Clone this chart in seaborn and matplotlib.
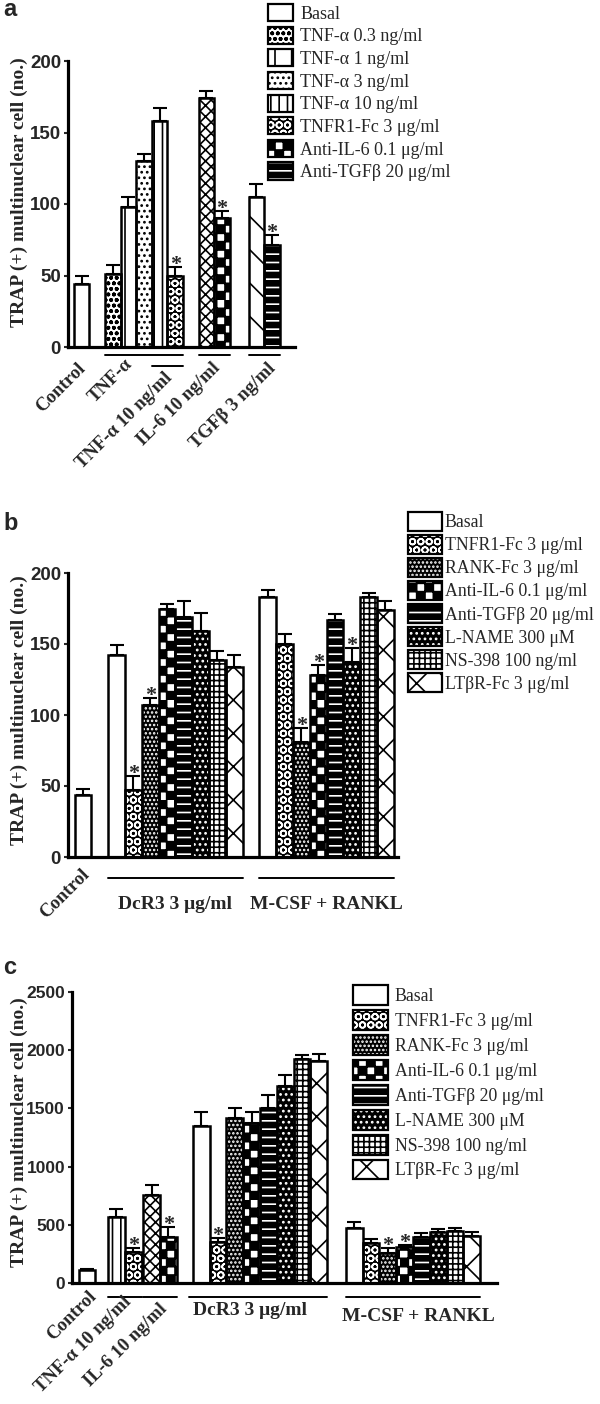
import numpy as np
import pandas as pd
import matplotlib
matplotlib.use("Agg")
import matplotlib.pyplot as plt
import matplotlib.hatch as mhatch
from matplotlib.path import Path
from matplotlib.patches import Patch, Rectangle
from matplotlib.font_manager import FontProperties
import seaborn as sns

# ---------------- data ----------------
# panel a
a_kinds = ["basal", "tnf03", "tnf1", "tnf3", "tnf10", "tnfr1", "il6", "ail6", "tgfb", "atgfb"]
a_values = [44, 51, 98, 130, 158, 50, 174, 90, 105, 71]
a_errors = [6, 6, 7, 5, 9, 6, 5, 5, 9, 7]
a_sig = [0, 0, 0, 0, 0, 1, 0, 1, 0, 1]
a_groups = ["Control", "TNF-α", "TNF-α 10 ng/ml", "IL-6 10 ng/ml", "TGFβ 3 ng/ml"]
a_yticks = [0, 50, 100, 150, 200]
a_legend_kinds = ["basal", "tnf03", "tnf1", "tnf3", "tnf10", "tnfr1", "ail6", "atgfb"]
a_legend_labels = ["Basal", "TNF-α 0.3 ng/ml", "TNF-α 1 ng/ml", "TNF-α 3 ng/ml",
                   "TNF-α 10 ng/ml", "TNFR1-Fc 3 μg/ml", "Anti-IL-6 0.1 μg/ml",
                   "Anti-TGFβ 20 μg/ml"]

# panel b
b_kinds = ["basal",
           "basal", "tnfr1", "rank", "ail6", "atgfb", "lname", "ns398", "ltbr",
           "basal", "tnfr1", "rank", "ail6", "atgfb", "lname", "ns398", "ltbr"]
b_values = [44, 142, 47, 107, 175, 169, 159, 139, 134,
            183, 150, 81, 128, 167, 137, 183, 174]
b_errors = [4, 7, 10, 5, 3, 11, 13, 6, 8,
            5, 7, 10, 7, 4, 10, 3, 6]
b_sig = [0, 0, 1, 1, 0, 0, 0, 0, 0,
         0, 0, 1, 1, 0, 1, 0, 0]
b_groups = ["Control", "DcR3 3 μg/ml", "M-CSF + RANKL"]
b_yticks = [0, 50, 100, 150, 200]

# panel c
c_kinds = ["basal", "tnf10", "tnfr1", "il6", "ail6",
           "basal", "tnfr1", "rank", "ail6", "atgfb", "lname", "ns398", "ltbr",
           "basal", "tnfr1", "rank", "ail6", "atgfb", "lname", "ns398", "ltbr"]
c_values = [110, 570, 270, 757, 400,
            1350, 350, 1414, 1371, 1500, 1690, 1920, 1910,
            471, 343, 262, 314, 400, 442, 451, 408]
c_errors = [10, 70, 30, 85, 85,
            115, 40, 85, 100, 115, 95, 40, 60,
            52, 37, 43, 14, 34, 23, 26, 29]
c_sig = [0, 0, 1, 0, 1,
         0, 1, 0, 0, 0, 0, 0, 0,
         0, 0, 1, 1, 0, 0, 0, 0]
c_groups = ["Control", "TNF-α 10 ng/ml", "IL-6 10 ng/ml", "DcR3 3 μg/ml", "M-CSF + RANKL"]
c_yticks = [0, 500, 1000, 1500, 2000, 2500]

bc_legend_kinds = ["basal", "tnfr1", "rank", "ail6", "atgfb", "lname", "ns398", "ltbr"]
bc_legend_labels = ["Basal", "TNFR1-Fc 3 μg/ml", "RANK-Fc 3 μg/ml", "Anti-IL-6 0.1 μg/ml",
                    "Anti-TGFβ 20 μg/ml", "L-NAME 300 μM", "NS-398 100 ng/ml",
                    "LTβR-Fc 3 μg/ml"]

# ---------------- layout (bar slots) ----------------
a_pos = [0, 2, 3, 4, 5, 6, 8, 9, 11.2, 12.2]
b_pos = [0] + [2 + i for i in range(8)] + [11 + i for i in range(8)]
c_pos = [0, 1.75, 2.75, 3.85, 4.85] + [6.8 + i for i in range(8)] + [15.9 + i for i in range(8)]

# ---------------- custom checker hatch ('*') ----------------
class Checker(mhatch.HatchPatternBase):
    def __init__(self, hatch, density):
        n = hatch.count("*") * density
        if n % 2:
            n += 1
        self.n = n
        self.num_vertices = (n * n // 2) * 5 if n else 0

    def set_vertices_and_codes(self, vertices, codes):
        s = 1.0 / self.n
        verts = []
        for i in range(self.n):
            for j in range(self.n):
                if (i + j) % 2 == 0:
                    x0, y0 = i * s, j * s
                    verts.append([[x0, y0], [x0 + s, y0], [x0 + s, y0 + s],
                                  [x0, y0 + s], [x0, y0]])
        vertices[:] = np.array(verts, float).reshape(-1, 2)
        codes[:] = np.tile([Path.MOVETO, Path.LINETO, Path.LINETO,
                            Path.LINETO, Path.CLOSEPOLY], len(verts))

mhatch._hatch_types = [t for t in mhatch._hatch_types if t is not mhatch.Stars] + [Checker]

# style: kind -> (face, hatch, hatch colour)
STYLE = {
    "basal": ("white", "", "black"),
    "tnf03": ("white", "ooo", "black"),
    "tnf1": ("white", "|", "black"),
    "tnf3": ("white", "...", "black"),
    "tnf10": ("white", "||", "black"),
    "tnfr1": ("black", "OO", "white"),
    "il6": ("white", "xxx", "black"),
    "ail6": ("white", "**", "black"),
    "tgfb": ("white", "\\", "black"),
    "atgfb": ("black", "--", "white"),
    "rank": ("black", "....", "white"),
    "lname": ("black", "...", "white"),
    "ns398": ("white", "+++", "black"),
    "ltbr": ("white", "x", "black"),
}

sns.set_style("white")
plt.rcParams["hatch.linewidth"] = 1.2
plt.rcParams["font.family"] = ["Liberation Serif", "DejaVu Serif"]

W, H = 600, 1404
fig = plt.figure(figsize=(6, 14.04), dpi=100)

SANS_B = dict(family="Liberation Sans", weight="bold")
SERIF_B = dict(family="Liberation Serif", weight="bold")


def ax_rect(x0, x1, ytop, ybot):
    return [x0 / W, 1 - ybot / H, (x1 - x0) / W, (ybot - ytop) / H]


def draw_panel(ax, pos, vals, errs, kinds, sig, xlim, ymax, yticks, tsize):
    df = pd.DataFrame({"pos": pos, "val": vals})
    sns.barplot(data=df, x="pos", y="val", native_scale=True, width=1.0,
                errorbar=None, color="white", edgecolor="black", linewidth=0, ax=ax)
    parr = np.array(pos, float)
    for p in list(ax.patches):
        cx = p.get_x() + p.get_width() / 2
        i = int(np.argmin(np.abs(parr - cx)))
        face, hatch, hc = STYLE[kinds[i]]
        p.set_facecolor(face)
        p.set_edgecolor(hc)
        p.set_hatch(hatch)
        p.set_linewidth(0)
        ax.add_patch(Rectangle(p.get_xy(), p.get_width(), p.get_height(), fill=False,
                               ec="black", lw=1.8, zorder=p.get_zorder() + 0.1))
    ax.errorbar(pos, vals, yerr=[np.zeros(len(vals)), errs], fmt="none", ecolor="black",
                elinewidth=1.5, capsize=5, capthick=1.5, zorder=4)
    for x, v, e, s in zip(pos, vals, errs, sig):
        if s:
            ax.annotate("*", xy=(x, v + e), xytext=(0, -2), textcoords="offset points",
                        ha="center", va="baseline", fontsize=16, **SERIF_B)
    ax.set_xlim(*xlim)
    ax.set_ylim(0, ymax)
    ax.set_xticks([])
    ax.set_xlabel("")
    ax.set_ylabel("")
    ax.set_yticks(yticks)
    ax.set_yticklabels([str(t) for t in yticks], fontsize=tsize, **SANS_B)
    ax.tick_params(axis="y", direction="out", length=3, width=1.5, pad=2, left=True)
    sns.despine(ax=ax)
    for s in ("left", "bottom"):
        ax.spines[s].set_linewidth(2.3)
        ax.spines[s].set_color("black")
    ax.patch.set_alpha(0)


def underline(ax, x0, x1, y):
    ax.plot([x0, x1], [y, y], color="black", lw=1.4, transform=ax.get_xaxis_transform(),
            clip_on=False)


def rot_label(ax, text, x, y, size=13.5):
    ax.text(x, y, text, rotation=45, rotation_mode="anchor", ha="right", va="center",
            transform=ax.get_xaxis_transform(), fontsize=size, **SERIF_B)


def flat_label(ax, text, x, y, size=14):
    ax.text(x, y, text, ha="center", va="center", transform=ax.get_xaxis_transform(),
            fontsize=size, **SERIF_B)


def make_legend(kinds, labels, x, y, hl, hh, ls, htp, size):
    handles = []
    for k in kinds:
        face, hatch, hc = STYLE[k]
        handles.append((Patch(facecolor=face, edgecolor=hc, hatch=hatch, linewidth=0),
                        Patch(facecolor="none", edgecolor="black", linewidth=1.6)))
    fig.legend(handles, labels, loc="upper left", bbox_to_anchor=(x / W, 1 - y / H),
               frameon=False, borderpad=0, borderaxespad=0, handlelength=hl,
               handleheight=hh, labelspacing=ls, handletextpad=htp,
               prop=FontProperties(family="Liberation Serif", size=size))


YLABEL = "TRAP (+) multinuclear cell (no.)"

# ---------------- panel a ----------------
axa = fig.add_axes(ax_rect(68, 295, 61, 347))
draw_panel(axa, a_pos, a_values, a_errors, a_kinds, a_sig, (-0.87, 13.68), 200, a_yticks, 13.5)
underline(axa, 1.5, 6.5, -0.028)
underline(axa, 4.5, 6.5, -0.066)
underline(axa, 7.5, 9.5, -0.028)
underline(axa, 10.7, 12.7, -0.028)
rot_label(axa, a_groups[0], 0.1, -0.066)
rot_label(axa, a_groups[1], 3.1, -0.052)
rot_label(axa, a_groups[2], 5.67, -0.10)
rot_label(axa, a_groups[3], 8.7, -0.066)
rot_label(axa, a_groups[4], 12.3, -0.066)
make_legend(a_legend_kinds, a_legend_labels, 268, 4, 1.39, 1.075, 0.22, 0.39, 13)
fig.text(19 / W, 1 - 192 / H, YLABEL, rotation=90, ha="center", va="center",
         fontsize=14, **SERIF_B)
fig.text(3 / W, 1 - 10 / H, "a", ha="left", va="center", fontsize=17, **SANS_B)

# ---------------- panel b ----------------
axb = fig.add_axes(ax_rect(68, 398, 573, 857))
draw_panel(axb, b_pos, b_values, b_errors, b_kinds, b_sig, (-0.89, 18.75), 200, b_yticks, 13.5)
underline(axb, 1.5, 9.5, -0.074)
underline(axb, 10.5, 18.5, -0.074)
rot_label(axb, b_groups[0], 0.24, -0.053)
flat_label(axb, b_groups[1], 5.5, -0.169)
flat_label(axb, b_groups[2], 14.5, -0.169)
make_legend(bc_legend_kinds, bc_legend_labels, 408, 512, 1.91, 1.265, 0.2, 0.17, 12.8)
fig.text(19 / W, 1 - 710 / H, YLABEL, rotation=90, ha="center", va="center",
         fontsize=14, **SERIF_B)
fig.text(3 / W, 1 - 523 / H, "b", ha="left", va="center", fontsize=17, **SANS_B)

# ---------------- panel c ----------------
axc = fig.add_axes(ax_rect(72, 497, 991.7, 1283.3))
draw_panel(axc, c_pos, c_values, c_errors, c_kinds, c_sig, (-0.89, 24.4), 2500, c_yticks, 12.5)
underline(axc, 1.25, 3.25, -0.047)
underline(axc, 3.35, 5.35, -0.047)
underline(axc, 6.1, 14.3, -0.047)
underline(axc, 15.4, 23.4, -0.047)
rot_label(axc, c_groups[0], 0.42, -0.037)
rot_label(axc, c_groups[1], 2.5, -0.054)
rot_label(axc, c_groups[2], 4.6, -0.078)
flat_label(axc, c_groups[3], 9.7, -0.092)
flat_label(axc, c_groups[4], 19.7, -0.115)
make_legend(bc_legend_kinds, bc_legend_labels, 353, 985, 1.97, 1.35, 0.28, 0.39, 12.8)
fig.text(19 / W, 1 - 1132 / H, YLABEL, rotation=90, ha="center", va="center",
         fontsize=14, **SERIF_B)
fig.text(3 / W, 1 - 967 / H, "c", ha="left", va="center", fontsize=17, **SANS_B)

fig.savefig("out.png", dpi=100, facecolor="white")
